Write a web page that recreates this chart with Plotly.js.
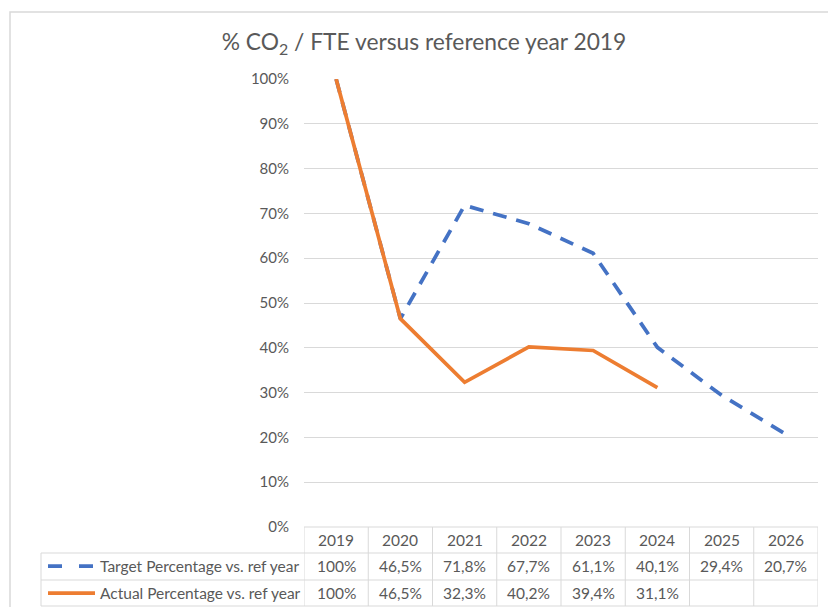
<!DOCTYPE html>
<html>
<head>
<meta charset="utf-8">
<script src="https://cdn.plot.ly/plotly-3.0.1.min.js"></script>
<style>html,body{margin:0;padding:0;background:#fff;}#chart{width:828px;height:607px;}</style>
</head>
<body>
<div id="chart"></div>
<script>
const years = [2019, 2020, 2021, 2022, 2023, 2024, 2025, 2026];
const targetValues = [1.0, 0.465, 0.718, 0.677, 0.611, 0.401, 0.294, 0.207];
const actualValues = [1.0, 0.465, 0.323, 0.402, 0.394, 0.311, null, null];
const seriesNames = ['Target Percentage vs. ref year', 'Actual Percentage vs. ref year'];
const titleText = '% CO<sub>2</sub> / FTE versus reference year 2019';

const FONT = 'Lato, Carlito, Calibri, sans-serif';
const GREY = '#595959';
const GRID = '#d9d9d9';
const BLUE = '#4472C4';
const ORANGE = '#ED7D31';

const W = 828, H = 607;
const L = 304, R = 10, T = 79, B = 80;
const PW = W - L - R, PH = H - T - B;
const PX = px => (px - L) / PW;
const PY = py => (H - B - py) / PH;

function fmt(v) {
  if (v === null || v === undefined) return '';
  if (Math.abs(v - 1) < 1e-9) return '100%';
  return (v * 100).toFixed(1).replace('.', ',') + '%';
}

const rowHeader = 540, row1 = 566, row2 = 593;
const yTop = H - B, yH = 553, y1 = 580, y2 = 606;
const legendLeft = 41;

const traces = [
  { x: years, y: targetValues, name: seriesNames[0], type: 'scatter', mode: 'lines',
    line: { color: BLUE, width: 3.75, dash: '14px,10px' }, cliponaxis: false, hoverinfo: 'skip' },
  { x: years, y: actualValues, name: seriesNames[1], type: 'scatter', mode: 'lines',
    line: { color: ORANGE, width: 3.75 }, cliponaxis: false, connectgaps: false, hoverinfo: 'skip' }
];

const shapes = [];
const lineStyle = { color: GRID, width: 1 };
// outer chart border
shapes.push({ type: 'rect', xref: 'paper', yref: 'paper', x0: PX(10), x1: PX(840), y0: PY(620), y1: PY(12),
  line: { color: GRID, width: 1.5 }, layer: 'below' });
// column boundaries
const bounds = years.map(y => y - 0.5).concat([years[years.length - 1] + 0.5]);
bounds.forEach(b => shapes.push({ type: 'line', xref: 'x', yref: 'paper', x0: b, x1: b, y0: PY(yTop), y1: PY(y2), line: lineStyle }));
// legend column left border
shapes.push({ type: 'line', xref: 'paper', yref: 'paper', x0: PX(legendLeft), x1: PX(legendLeft), y0: PY(yH), y1: PY(y2), line: lineStyle });
// horizontal rows
[yH, y1, y2].forEach(py => shapes.push({ type: 'line', xref: 'paper', yref: 'paper', x0: PX(legendLeft), x1: 1, y0: PY(py), y1: PY(py), line: lineStyle }));
shapes.push({ type: 'line', xref: 'paper', yref: 'paper', x0: 0, x1: 1, y0: PY(yTop), y1: PY(yTop), line: lineStyle });
// legend keys
shapes.push({ type: 'line', xref: 'paper', yref: 'paper', x0: PX(48), x1: PX(95), y0: PY(row1), y1: PY(row1),
  line: { color: BLUE, width: 3.75, dash: '14px,17px' } });
shapes.push({ type: 'line', xref: 'paper', yref: 'paper', x0: PX(48), x1: PX(95), y0: PY(row2), y1: PY(row2),
  line: { color: ORANGE, width: 3.75 } });

const annotations = [];
const cellFont = { family: FONT, size: 15.5, color: GREY };
years.forEach((yr, i) => {
  annotations.push({ x: yr, xref: 'x', y: PY(rowHeader), yref: 'paper', text: String(yr), showarrow: false, font: cellFont, xanchor: 'center', yanchor: 'middle' });
  annotations.push({ x: yr, xref: 'x', y: PY(row1), yref: 'paper', text: fmt(targetValues[i]), showarrow: false, font: cellFont, xanchor: 'center', yanchor: 'middle' });
  if (actualValues[i] !== null)
    annotations.push({ x: yr, xref: 'x', y: PY(row2), yref: 'paper', text: fmt(actualValues[i]), showarrow: false, font: cellFont, xanchor: 'center', yanchor: 'middle' });
});
annotations.push({ x: PX(98), xref: 'paper', y: PY(row1), yref: 'paper', text: seriesNames[0], showarrow: false, font: cellFont, xanchor: 'left', yanchor: 'middle' });
annotations.push({ x: PX(98), xref: 'paper', y: PY(row2), yref: 'paper', text: seriesNames[1], showarrow: false, font: cellFont, xanchor: 'left', yanchor: 'middle' });

const layout = {
  width: W, height: H,
  margin: { l: L, r: R, t: T, b: B, pad: 0 },
  paper_bgcolor: '#fff', plot_bgcolor: '#fff',
  showlegend: false,
  title: { text: titleText, xref: 'container', x: 424 / W, yref: 'container', y: 1 - 42 / H, xanchor: 'center', yanchor: 'middle',
    font: { family: FONT, size: 22.8, color: GREY } },
  xaxis: { range: [years[0] - 0.5, years[years.length - 1] + 0.5], showgrid: false, zeroline: false, showticklabels: false, ticks: '', showline: false, fixedrange: true },
  yaxis: { range: [0, 1], dtick: 0.1, tickformat: '.0%', showgrid: true, gridcolor: GRID, gridwidth: 1, zeroline: false, showline: false, ticks: '',
    ticklabelstandoff: 14, tickfont: { family: FONT, size: 15, color: GREY }, fixedrange: true },
  shapes: shapes,
  annotations: annotations
};

Plotly.newPlot('chart', traces, layout, { staticPlot: true, displayModeBar: false });
</script>
</body>
</html>
